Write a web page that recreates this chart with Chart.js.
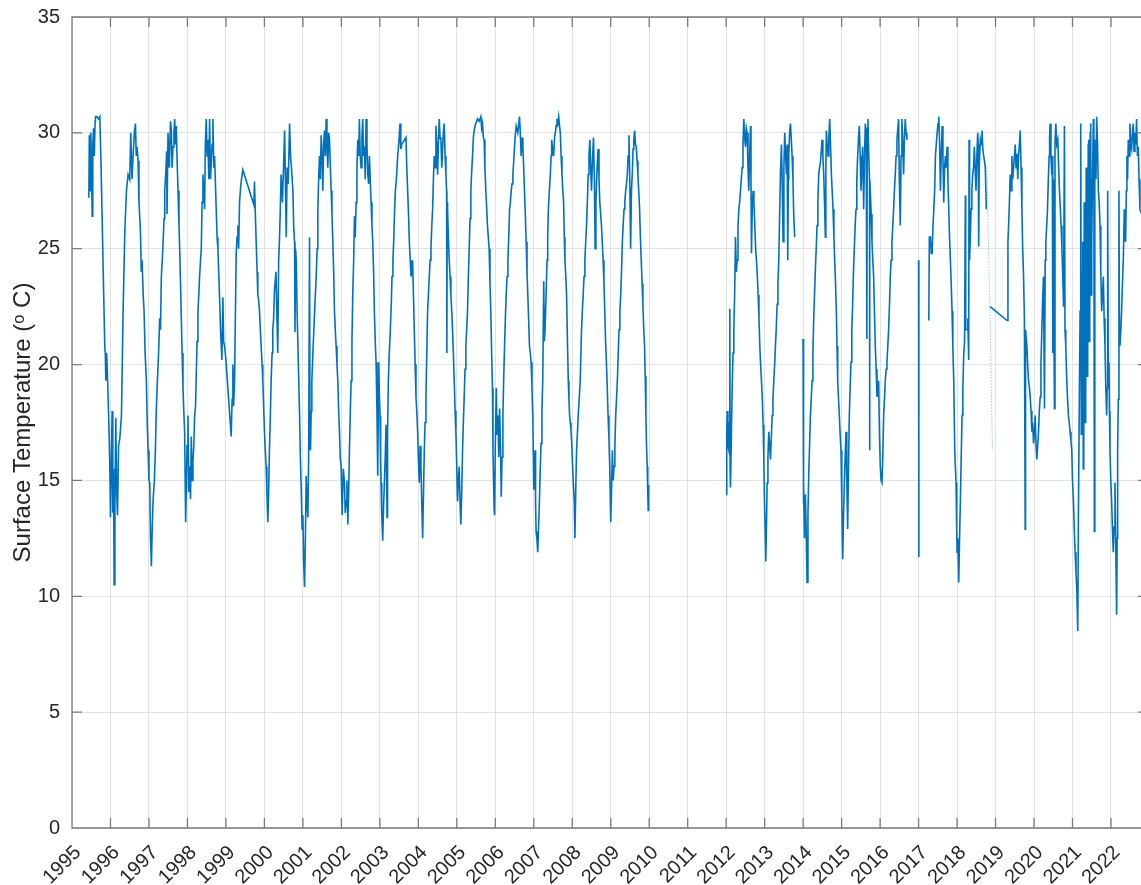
<!DOCTYPE html>
<html>
<head>
<meta charset="utf-8">
<script src="https://cdn.jsdelivr.net/npm/chart.js@4.4.1/dist/chart.umd.min.js"></script>
<style>
  html, body { margin: 0; padding: 0; background: #fff; overflow: hidden; }
</style>
</head>
<body>
<canvas id="tempChart" width="1141" height="885"></canvas>
<script>
// Lecturas aproximadas de la figura: [año decimal, temperatura °C]; null = sin datos
const serie1995_1999 = [
  [1995.438, 27.2], [1995.45, 29.9], [1995.47, 27.5], [1995.49, 30.0], [1995.51, 28.0], [1995.525, 26.4],
  [1995.54, 29.5], [1995.56, 30.2], [1995.58, 29.0], [1995.6, 30.5], [1995.611, 30.7], [1995.65, 30.7],
  [1995.69, 30.6], [1995.723, 30.7], [1995.749, 29.0], [1995.784, 26.3], [1995.81, 24.1], [1995.853, 20.7],
  [1995.865, 20.5], [1995.879, 19.3], [1995.9, 20.5], [1995.922, 19.5], [1995.957, 17.5], [1995.983, 15.6],
  [1996.0, 13.4], [1996.043, 18.0], [1996.06, 13.6], [1996.08, 15.5], [1996.095, 10.5], [1996.115, 14.0],
  [1996.138, 17.7], [1996.16, 14.5], [1996.182, 13.5], [1996.21, 16.5], [1996.242, 16.8], [1996.285, 17.8],
  [1996.328, 22.3], [1996.372, 25.7], [1996.415, 27.5], [1996.458, 28.2], [1996.5, 28.0], [1996.527, 30.0],
  [1996.56, 28.0], [1996.588, 29.0], [1996.62, 30.0], [1996.648, 30.4], [1996.67, 29.0], [1996.691, 29.4],
  [1996.717, 28.8], [1996.74, 27.0], [1996.778, 25.8], [1996.8, 24.0], [1996.821, 24.5], [1996.85, 23.0],
  [1996.873, 22.3], [1996.9, 20.5], [1996.933, 19.3], [1996.955, 17.5], [1996.977, 16.3], [1997.0, 15.0],
  [1997.02, 14.9], [1997.04, 12.5], [1997.063, 11.3], [1997.085, 13.0], [1997.106, 14.1], [1997.14, 15.0],
  [1997.167, 16.3], [1997.19, 18.0], [1997.219, 19.3], [1997.25, 20.5], [1997.279, 22.0], [1997.3, 21.5],
  [1997.322, 23.8], [1997.36, 25.0], [1997.392, 26.3], [1997.41, 27.5], [1997.435, 28.2], [1997.46, 29.2],
  [1997.47, 26.5], [1997.495, 30.0], [1997.53, 28.5], [1997.56, 30.5], [1997.582, 30.1], [1997.6, 28.5],
  [1997.625, 29.4], [1997.65, 30.0], [1997.668, 30.6], [1997.69, 29.5], [1997.711, 30.3], [1997.733, 28.7],
  [1997.755, 27.5], [1997.78, 26.0], [1997.798, 25.0], [1997.82, 23.5], [1997.841, 22.0], [1997.862, 20.5],
  [1997.884, 19.0], [1997.905, 18.0], [1997.927, 17.1], [1997.953, 13.2], [1997.971, 14.6], [1997.99, 16.5],
  [1998.014, 17.8], [1998.035, 14.5], [1998.057, 15.6], [1998.08, 14.2], [1998.1, 16.9], [1998.12, 15.0],
  [1998.143, 15.8], [1998.165, 16.5], [1998.187, 17.8], [1998.21, 18.2], [1998.23, 19.6], [1998.25, 21.0],
  [1998.273, 22.3], [1998.295, 23.0], [1998.316, 23.8], [1998.34, 24.5], [1998.36, 25.0], [1998.38, 27.0],
  [1998.403, 28.2], [1998.425, 27.5], [1998.446, 26.7], [1998.465, 29.5], [1998.489, 30.6], [1998.51, 29.0],
  [1998.532, 29.7], [1998.555, 28.0], [1998.576, 30.6], [1998.6, 28.0], [1998.619, 28.7], [1998.64, 29.5],
  [1998.662, 30.6], [1998.685, 28.5], [1998.705, 29.0], [1998.727, 27.8], [1998.748, 26.7], [1998.77, 25.5],
  [1998.792, 25.0], [1998.812, 24.0], [1998.835, 22.9], [1998.86, 21.5], [1998.895, 20.2], [1998.921, 22.9],
  [1998.94, 21.0], [1998.965, 20.8], [1999.0, 20.2]
];

const serie1999_2005 = [
  [1999.137, 16.9], [1999.16, 18.5], [1999.181, 20.0], [1999.2, 18.2], [1999.224, 19.3], [1999.245, 22.0],
  [1999.267, 24.8], [1999.29, 25.5], [1999.31, 26.0], [1999.33, 25.0], [1999.354, 27.0], [1999.375, 27.5],
  [1999.397, 27.9], [1999.44, 28.4], [1999.725, 26.9], [1999.742, 27.9], [1999.765, 26.5], [1999.786, 25.3],
  [1999.81, 24.0], [1999.829, 23.0], [1999.85, 22.8], [1999.872, 22.3], [1999.895, 21.5], [1999.915, 20.8],
  [1999.94, 20.0], [1999.959, 19.3], [1999.98, 18.2], [2000.002, 17.1], [2000.025, 16.2], [2000.045, 15.6],
  [2000.065, 14.5], [2000.088, 13.2], [2000.11, 14.5], [2000.131, 16.3], [2000.155, 17.8], [2000.175, 19.3],
  [2000.2, 20.5], [2000.218, 21.5], [2000.24, 22.0], [2000.261, 23.2], [2000.3, 24.0], [2000.347, 20.5],
  [2000.37, 24.5], [2000.39, 25.3], [2000.41, 26.5], [2000.434, 28.2], [2000.47, 27.0], [2000.5, 28.7],
  [2000.525, 30.1], [2000.545, 28.0], [2000.568, 25.5], [2000.59, 28.5], [2000.62, 27.8], [2000.654, 30.4],
  [2000.68, 29.0], [2000.71, 28.3], [2000.741, 27.5], [2000.76, 26.0], [2000.784, 25.3], [2000.795, 21.4],
  [2000.81, 25.0], [2000.827, 24.5], [2000.85, 22.3], [2000.87, 22.3], [2000.89, 19.5], [2000.914, 17.8],
  [2000.935, 16.0], [2000.957, 14.6], [2000.98, 12.9], [2001.0, 13.5], [2001.02, 11.5], [2001.043, 10.4],
  [2001.065, 12.5], [2001.086, 15.2], [2001.11, 14.0], [2001.13, 13.4], [2001.15, 16.0], [2001.173, 25.5],
  [2001.185, 16.5], [2001.199, 16.3], [2001.215, 18.0], [2001.233, 19.3], [2001.26, 20.5], [2001.285, 21.5],
  [2001.31, 22.5], [2001.346, 23.8], [2001.37, 25.0], [2001.389, 26.7], [2001.41, 28.0], [2001.432, 29.0],
  [2001.455, 28.0], [2001.475, 29.9], [2001.5, 29.0], [2001.519, 27.5], [2001.54, 29.5], [2001.562, 30.1],
  [2001.585, 29.0], [2001.605, 30.6], [2001.625, 29.5], [2001.648, 28.5], [2001.67, 30.0], [2001.691, 29.7],
  [2001.715, 28.5], [2001.735, 27.5], [2001.756, 26.5], [2001.778, 25.3], [2001.8, 24.0], [2001.821, 22.3],
  [2001.842, 21.5], [2001.864, 20.8], [2001.886, 20.0], [2001.908, 19.3], [2001.93, 18.0], [2001.951, 17.1],
  [2001.97, 16.0], [2001.994, 15.6], [2002.02, 13.5], [2002.05, 15.5], [2002.08, 14.9], [2002.1, 13.6],
  [2002.124, 14.1], [2002.145, 15.0], [2002.167, 13.1], [2002.19, 14.5], [2002.21, 16.3], [2002.23, 17.8],
  [2002.253, 19.3], [2002.275, 21.0], [2002.296, 23.0], [2002.32, 24.5], [2002.34, 26.4], [2002.36, 25.5],
  [2002.383, 27.0], [2002.405, 28.5], [2002.426, 29.7], [2002.45, 29.0], [2002.469, 30.6], [2002.49, 29.0],
  [2002.513, 28.5], [2002.535, 29.8], [2002.556, 30.6], [2002.578, 29.0], [2002.599, 29.4], [2002.62, 28.0],
  [2002.642, 30.6], [2002.665, 29.5], [2002.686, 28.2], [2002.71, 27.8], [2002.729, 29.0], [2002.75, 28.0],
  [2002.772, 27.0], [2002.795, 26.0], [2002.815, 25.3], [2002.838, 24.0], [2002.858, 22.3], [2002.88, 21.0],
  [2002.902, 20.1], [2002.925, 18.0], [2002.945, 15.2], [2002.971, 20.1], [2002.99, 18.5], [2003.005, 17.8],
  [2003.02, 16.0], [2003.031, 14.9], [2003.05, 13.5], [2003.074, 12.4], [2003.095, 13.8], [2003.118, 14.9],
  [2003.14, 16.0], [2003.161, 17.4], [2003.187, 13.4], [2003.2, 17.0], [2003.221, 19.3], [2003.245, 20.5],
  [2003.273, 21.5], [2003.295, 22.5], [2003.316, 23.8], [2003.34, 24.5], [2003.36, 25.3], [2003.38, 26.5],
  [2003.403, 27.5], [2003.43, 28.0], [2003.463, 29.0], [2003.49, 29.5], [2003.524, 30.4], [2003.545, 29.3],
  [2003.567, 29.5], [2003.679, 29.8], [2003.7, 28.5], [2003.723, 27.5], [2003.745, 26.5], [2003.766, 25.3],
  [2003.79, 24.5], [2003.809, 23.8], [2003.83, 24.0], [2003.852, 24.5], [2003.873, 23.0], [2003.895, 21.5],
  [2003.917, 20.0], [2003.939, 18.6], [2003.96, 18.0], [2003.982, 17.1], [2004.0, 16.0], [2004.025, 14.9],
  [2004.045, 16.5], [2004.068, 15.6], [2004.09, 14.0], [2004.112, 12.5], [2004.135, 14.5], [2004.155, 16.3],
  [2004.175, 17.5], [2004.198, 18.6], [2004.22, 20.5], [2004.241, 22.3], [2004.262, 23.0], [2004.284, 23.8],
  [2004.306, 24.5], [2004.328, 25.0], [2004.35, 26.0], [2004.371, 26.7], [2004.392, 28.0], [2004.414, 29.0],
  [2004.435, 28.5], [2004.457, 30.3], [2004.48, 29.5], [2004.501, 28.2], [2004.52, 29.5], [2004.544, 30.6],
  [2004.565, 29.8], [2004.587, 29.7], [2004.61, 28.5], [2004.63, 29.3], [2004.65, 30.0], [2004.673, 30.4],
  [2004.695, 29.0], [2004.717, 28.2], [2004.735, 27.5], [2004.742, 20.5], [2004.75, 27.0], [2004.76, 26.7],
  [2004.78, 25.5], [2004.803, 24.5], [2004.825, 23.8], [2004.846, 23.0], [2004.868, 22.3], [2004.889, 21.5],
  [2004.91, 20.5], [2004.933, 19.3], [2004.955, 18.0], [2004.976, 17.1], [2005.0, 15.5], [2005.019, 14.1],
  [2005.04, 15.0], [2005.062, 15.6], [2005.085, 14.0], [2005.105, 13.1], [2005.128, 14.5], [2005.149, 16.3],
  [2005.17, 17.5], [2005.192, 18.6], [2005.213, 19.8], [2005.235, 20.8], [2005.256, 21.5], [2005.278, 22.3],
  [2005.3, 23.8], [2005.322, 25.0], [2005.343, 26.3], [2005.365, 27.5], [2005.386, 28.3], [2005.408, 29.0],
  [2005.43, 29.8], [2005.451, 30.1], [2005.49, 30.4], [2005.538, 30.6], [2005.58, 30.5], [2005.624, 30.7],
  [2005.645, 30.2], [2005.667, 30.4], [2005.69, 29.8], [2005.71, 29.7], [2005.73, 28.5], [2005.754, 27.5],
  [2005.775, 26.8], [2005.797, 26.0], [2005.818, 25.5], [2005.84, 25.0], [2005.862, 23.5], [2005.883, 22.3],
  [2005.905, 20.5], [2005.927, 19.0], [2005.94, 16.3], [2005.97, 13.7]
];

const serie2006_2009 = [
  [2005.983, 13.5], [2006.0, 16.5], [2006.026, 19.0], [2006.045, 17.0], [2006.069, 17.8], [2006.09, 16.0],
  [2006.112, 18.1], [2006.135, 16.5], [2006.155, 14.3], [2006.175, 16.0], [2006.198, 17.8], [2006.22, 19.5],
  [2006.241, 20.8], [2006.262, 22.0], [2006.284, 23.0], [2006.306, 23.8], [2006.328, 24.5], [2006.35, 25.5],
  [2006.371, 26.7], [2006.392, 27.0], [2006.414, 27.5], [2006.435, 27.8], [2006.457, 28.2], [2006.48, 28.8],
  [2006.5, 29.4], [2006.52, 29.9], [2006.543, 30.3], [2006.585, 30.0], [2006.629, 30.7], [2006.65, 30.0],
  [2006.672, 29.0], [2006.695, 29.8], [2006.716, 29.4], [2006.738, 28.5], [2006.759, 27.5], [2006.78, 26.5],
  [2006.802, 25.3], [2006.824, 24.0], [2006.845, 23.0], [2006.866, 22.0], [2006.888, 20.8], [2006.91, 20.5],
  [2006.931, 20.1], [2006.953, 19.0], [2006.974, 17.8], [2006.99, 16.0], [2007.0, 14.6], [2007.02, 15.5],
  [2007.034, 16.3], [2007.047, 14.0], [2007.06, 12.8], [2007.08, 12.5], [2007.103, 11.9], [2007.125, 13.0],
  [2007.147, 14.1], [2007.168, 15.5], [2007.19, 16.6], [2007.212, 18.0], [2007.233, 19.3], [2007.259, 23.6],
  [2007.275, 21.0], [2007.293, 21.5], [2007.32, 23.0], [2007.345, 24.5], [2007.362, 25.5], [2007.379, 26.7],
  [2007.405, 27.5], [2007.431, 28.2], [2007.45, 29.0], [2007.466, 29.7], [2007.49, 29.3], [2007.517, 29.0],
  [2007.54, 29.8], [2007.56, 30.0], [2007.58, 30.3], [2007.603, 30.6], [2007.625, 30.4], [2007.647, 30.7],
  [2007.67, 30.3], [2007.69, 30.0], [2007.71, 29.0], [2007.733, 28.2], [2007.755, 27.5], [2007.776, 27.0],
  [2007.793, 25.5], [2007.81, 24.5], [2007.832, 23.8], [2007.853, 23.0], [2007.875, 21.0], [2007.897, 19.3],
  [2007.914, 18.5], [2007.931, 17.8], [2007.948, 17.5], [2007.966, 17.2], [2007.99, 16.5], [2008.009, 15.6],
  [2008.03, 14.8], [2008.052, 14.1], [2008.069, 12.5], [2008.09, 14.5], [2008.112, 16.3], [2008.133, 17.0],
  [2008.155, 17.8], [2008.18, 18.5], [2008.207, 19.3], [2008.241, 21.5], [2008.262, 22.3], [2008.284, 23.0],
  [2008.306, 23.8], [2008.328, 24.5], [2008.35, 25.3], [2008.371, 26.0], [2008.392, 27.0], [2008.414, 28.2],
  [2008.435, 29.0], [2008.457, 29.7], [2008.48, 28.5], [2008.5, 27.5], [2008.525, 28.8], [2008.552, 29.8],
  [2008.575, 28.0], [2008.595, 25.0], [2008.615, 27.0], [2008.638, 28.2], [2008.655, 28.8], [2008.672, 29.3],
  [2008.695, 28.0], [2008.716, 27.0], [2008.738, 26.5], [2008.759, 26.0], [2008.78, 25.3], [2008.802, 24.5],
  [2008.824, 23.5], [2008.845, 22.3], [2008.866, 21.0], [2008.888, 20.1], [2008.91, 19.0], [2008.931, 17.8],
  [2008.953, 16.8], [2008.974, 15.6], [2009.0, 13.2], [2009.02, 14.5], [2009.043, 16.3], [2009.065, 15.0],
  [2009.086, 15.6], [2009.108, 16.5], [2009.129, 17.8], [2009.15, 18.5], [2009.172, 19.3], [2009.195, 20.5],
  [2009.216, 21.5], [2009.238, 22.3], [2009.259, 23.0], [2009.28, 24.0], [2009.302, 25.3], [2009.323, 26.0],
  [2009.345, 26.7], [2009.366, 27.0], [2009.388, 27.5], [2009.41, 27.8], [2009.431, 28.2], [2009.452, 29.0],
  [2009.474, 29.9], [2009.495, 28.0], [2009.517, 25.0], [2009.538, 27.5], [2009.56, 28.2], [2009.58, 29.3],
  [2009.6, 29.7], [2009.621, 30.1], [2009.643, 29.5], [2009.664, 29.4], [2009.685, 28.8], [2009.707, 28.2],
  [2009.728, 27.5], [2009.75, 26.7], [2009.771, 25.5], [2009.793, 24.5], [2009.815, 23.5], [2009.836, 22.6],
  [2009.858, 21.5], [2009.879, 20.8], [2009.896, 19.5], [2009.914, 17.8], [2009.93, 16.5], [2009.948, 15.6],
  [2009.962, 14.5], [2009.974, 13.7], [2009.985, 14.8],
  [2011.0, null]
];

const serie2012_2016 = [
  [2012.0, 14.4], [2012.015, 17.0], [2012.026, 18.0], [2012.045, 16.5], [2012.069, 16.3], [2012.085, 17.5],
  [2012.095, 22.4], [2012.103, 15.5], [2012.112, 14.7], [2012.135, 17.0], [2012.156, 19.0], [2012.178, 20.5],
  [2012.199, 21.5], [2012.22, 23.0], [2012.242, 25.5], [2012.264, 24.0], [2012.285, 24.5], [2012.307, 26.0],
  [2012.329, 26.7], [2012.35, 27.0], [2012.372, 27.5], [2012.393, 28.0], [2012.415, 28.5], [2012.437, 29.5],
  [2012.458, 30.6], [2012.48, 29.8], [2012.502, 29.4], [2012.523, 30.2], [2012.545, 30.0], [2012.567, 28.5],
  [2012.588, 27.5], [2012.61, 29.0], [2012.631, 30.3], [2012.645, 28.0], [2012.657, 24.8], [2012.68, 27.0],
  [2012.701, 27.5], [2012.72, 27.0], [2012.744, 26.0], [2012.766, 25.0], [2012.787, 24.5], [2012.81, 23.8],
  [2012.83, 23.0], [2012.852, 22.0], [2012.874, 20.8], [2012.895, 20.0], [2012.917, 19.3], [2012.94, 18.5],
  [2012.96, 17.4], [2012.978, 16.0], [2012.995, 14.1], [2013.012, 13.0], [2013.029, 11.5], [2013.047, 13.0],
  [2013.064, 14.9], [2013.085, 16.0], [2013.107, 17.1], [2013.13, 16.5], [2013.151, 15.9], [2013.172, 16.8],
  [2013.194, 17.8], [2013.215, 18.5], [2013.237, 19.3], [2013.26, 20.0], [2013.28, 20.8], [2013.3, 21.5],
  [2013.324, 22.6], [2013.345, 23.5], [2013.367, 24.5], [2013.39, 26.5], [2013.41, 28.2], [2013.436, 29.5],
  [2013.455, 28.0], [2013.479, 25.3], [2013.5, 28.5], [2013.522, 30.0], [2013.545, 29.0], [2013.566, 28.2],
  [2013.585, 29.5], [2013.6, 24.5], [2013.615, 28.0], [2013.626, 29.0], [2013.648, 30.0], [2013.67, 30.4],
  [2013.69, 29.8], [2013.713, 29.0], [2013.735, 28.0], [2013.756, 26.4], [2013.78, 25.5],
  [2013.9, null],
  [2013.998, 21.1], [2014.005, 14.0], [2014.016, 14.9], [2014.035, 12.5], [2014.059, 14.4], [2014.08, 12.8],
  [2014.102, 10.6], [2014.125, 13.5], [2014.145, 15.2], [2014.167, 16.5], [2014.189, 17.8], [2014.21, 18.5],
  [2014.232, 19.3], [2014.254, 20.5], [2014.275, 22.0], [2014.296, 23.0], [2014.318, 24.1], [2014.34, 25.0],
  [2014.362, 26.0], [2014.383, 27.0], [2014.405, 28.2], [2014.426, 28.5], [2014.448, 28.7], [2014.47, 29.2],
  [2014.491, 29.7], [2014.513, 29.0], [2014.535, 28.2], [2014.556, 27.0], [2014.578, 25.5], [2014.59, 28.5],
  [2014.604, 30.1], [2014.625, 29.5], [2014.647, 29.0], [2014.668, 29.8], [2014.69, 30.6], [2014.712, 29.5],
  [2014.734, 28.2], [2014.755, 27.5], [2014.777, 26.7], [2014.8, 25.5], [2014.82, 24.5], [2014.842, 23.5],
  [2014.863, 22.3], [2014.88, 20.8], [2014.898, 19.3], [2014.92, 18.5], [2014.941, 17.8], [2014.962, 17.0],
  [2014.984, 16.3], [2015.005, 14.0], [2015.028, 11.6], [2015.05, 13.5], [2015.071, 14.9], [2015.092, 16.0],
  [2015.114, 17.1], [2015.135, 15.0], [2015.157, 12.9], [2015.178, 15.5], [2015.2, 17.8], [2015.222, 19.0],
  [2015.244, 20.1], [2015.265, 21.5], [2015.287, 22.6], [2015.308, 24.0], [2015.33, 25.0], [2015.352, 26.0],
  [2015.374, 26.7], [2015.395, 28.0], [2015.417, 29.0], [2015.44, 29.8], [2015.46, 30.3], [2015.482, 29.0],
  [2015.503, 27.5], [2015.525, 28.5], [2015.547, 29.4], [2015.56, 28.0], [2015.573, 26.7], [2015.595, 29.0],
  [2015.616, 30.4], [2015.64, 29.5], [2015.655, 30.0], [2015.659, 21.1], [2015.665, 30.2], [2015.685, 30.6],
  [2015.705, 29.0], [2015.725, 28.0], [2015.728, 16.3], [2015.733, 28.0], [2015.746, 27.5], [2015.768, 26.5],
  [2015.789, 25.3], [2015.81, 24.5], [2015.832, 23.8], [2015.853, 22.3], [2015.875, 20.8], [2015.897, 19.8],
  [2015.919, 18.6], [2015.94, 18.9], [2015.962, 19.3], [2015.984, 17.0], [2016.005, 15.6], [2016.025, 15.0],
  [2016.048, 14.9], [2016.07, 16.0], [2016.092, 17.8], [2016.113, 18.5], [2016.135, 19.3], [2016.157, 19.8],
  [2016.178, 20.1], [2016.2, 20.8], [2016.221, 21.5], [2016.243, 22.5], [2016.265, 23.8], [2016.286, 24.5],
  [2016.308, 25.3], [2016.33, 26.0], [2016.351, 26.7], [2016.372, 27.5], [2016.394, 28.2], [2016.415, 29.0],
  [2016.438, 29.7], [2016.46, 30.2], [2016.481, 30.6], [2016.5, 28.0], [2016.524, 26.0], [2016.545, 29.0],
  [2016.567, 30.6], [2016.59, 29.5], [2016.611, 28.2], [2016.632, 29.8], [2016.654, 30.6], [2016.675, 30.0],
  [2016.697, 29.7],
  [2016.85, null]
];

const serie2017_2022 = [
  [2017.0, 24.5], [2017.004, 11.7], [2017.01, 23.4],
  [2017.15, null],
  [2017.266, 21.9], [2017.28, 25.5], [2017.309, 25.5], [2017.33, 24.8], [2017.352, 24.8], [2017.375, 26.0],
  [2017.395, 26.0], [2017.418, 27.5], [2017.438, 29.0], [2017.46, 29.5], [2017.482, 30.0], [2017.505, 30.4],
  [2017.525, 30.7], [2017.547, 29.5], [2017.568, 27.5], [2017.59, 29.0], [2017.611, 30.3], [2017.633, 29.0],
  [2017.654, 27.0], [2017.676, 28.5], [2017.698, 29.0], [2017.72, 28.5], [2017.741, 29.4], [2017.762, 28.0],
  [2017.784, 26.7], [2017.805, 25.5], [2017.827, 24.5], [2017.848, 23.5], [2017.87, 22.3], [2017.89, 20.8],
  [2017.914, 19.3], [2017.94, 16.3], [2017.958, 15.5], [2017.974, 14.9], [2017.99, 13.0], [2018.0, 11.9],
  [2018.02, 12.5], [2018.043, 10.6], [2018.065, 12.5], [2018.086, 14.1], [2018.108, 16.0], [2018.13, 17.8],
  [2018.15, 19.0], [2018.173, 20.4], [2018.195, 21.0], [2018.216, 27.3], [2018.225, 21.5], [2018.259, 21.5],
  [2018.28, 22.0], [2018.302, 20.2], [2018.312, 29.7], [2018.325, 24.5], [2018.345, 25.5], [2018.363, 26.7],
  [2018.385, 27.5], [2018.406, 28.2], [2018.428, 28.5], [2018.449, 29.4], [2018.47, 28.5], [2018.492, 27.5],
  [2018.515, 29.0], [2018.536, 30.0], [2018.55, 29.5], [2018.562, 25.1], [2018.575, 28.5], [2018.605, 29.7],
  [2018.625, 29.5], [2018.648, 30.1], [2018.67, 29.3], [2018.691, 29.0], [2018.712, 28.8], [2018.734, 28.5],
  [2018.76, 26.7],
  [2018.8, null],
  [2018.86, 22.5], [2019.3, 21.9], [2019.322, 25.3], [2019.339, 26.0], [2019.36, 27.0], [2019.382, 28.2],
  [2019.404, 27.5], [2019.425, 29.0], [2019.447, 28.0], [2019.469, 28.5], [2019.49, 29.0], [2019.512, 29.5],
  [2019.533, 28.5], [2019.555, 29.1], [2019.577, 28.0], [2019.598, 29.0], [2019.62, 29.5], [2019.641, 30.1],
  [2019.663, 28.5], [2019.685, 26.7], [2019.706, 25.0], [2019.728, 23.8], [2019.75, 22.0], [2019.771, 12.9],
  [2019.78, 21.5], [2019.814, 20.8], [2019.835, 20.0], [2019.857, 19.3], [2019.88, 19.0], [2019.901, 18.6],
  [2019.922, 18.0], [2019.944, 17.1], [2019.965, 17.5], [2019.987, 16.6], [2020.01, 17.0], [2020.03, 17.8],
  [2020.052, 16.5], [2020.073, 15.9], [2020.095, 16.5], [2020.117, 17.1], [2020.138, 18.0], [2020.16, 18.6],
  [2020.18, 20.0], [2020.203, 21.5], [2020.225, 22.8], [2020.246, 23.8], [2020.272, 18.1], [2020.29, 24.5],
  [2020.307, 25.3], [2020.33, 26.0], [2020.35, 26.7], [2020.372, 28.0], [2020.393, 29.0], [2020.405, 29.8],
  [2020.419, 30.4], [2020.44, 29.0], [2020.462, 28.2], [2020.475, 29.0], [2020.488, 20.5], [2020.5, 28.0],
  [2020.515, 22.0], [2020.531, 18.1], [2020.545, 29.5], [2020.566, 30.4], [2020.59, 29.5], [2020.618, 29.7],
  [2020.64, 28.5], [2020.661, 27.5], [2020.682, 26.8], [2020.704, 26.0], [2020.725, 25.0], [2020.747, 23.8],
  [2020.768, 22.5], [2020.79, 30.3], [2020.805, 21.5], [2020.825, 20.8], [2020.851, 19.3], [2020.872, 18.5],
  [2020.894, 17.8], [2020.915, 17.5], [2020.937, 17.1], [2020.96, 16.7], [2020.981, 16.3], [2021.0, 15.0],
  [2021.024, 14.1], [2021.045, 13.0], [2021.067, 11.9], [2021.09, 11.0], [2021.11, 10.4], [2021.136, 8.5],
  [2021.153, 13.4], [2021.175, 18.0], [2021.197, 22.3], [2021.214, 30.4], [2021.228, 17.0], [2021.24, 17.8],
  [2021.253, 24.0], [2021.266, 25.3], [2021.28, 15.5], [2021.292, 16.3], [2021.305, 27.0], [2021.318, 26.7],
  [2021.33, 17.5], [2021.343, 18.6], [2021.356, 28.5], [2021.369, 28.2], [2021.382, 19.5], [2021.395, 20.8],
  [2021.408, 29.5], [2021.421, 29.7], [2021.434, 21.0], [2021.447, 22.3], [2021.46, 30.0], [2021.473, 30.4],
  [2021.486, 23.0], [2021.499, 25.3], [2021.52, 28.0], [2021.542, 30.6], [2021.555, 29.0], [2021.568, 12.8],
  [2021.58, 28.5], [2021.594, 29.7], [2021.61, 28.0], [2021.628, 30.7], [2021.65, 29.5], [2021.672, 27.5],
  [2021.693, 27.0], [2021.715, 26.0], [2021.735, 24.0], [2021.758, 22.3], [2021.78, 23.0], [2021.801, 23.8],
  [2021.822, 22.0], [2021.844, 20.8], [2021.865, 19.0], [2021.888, 17.8], [2021.9, 19.0], [2021.914, 27.5],
  [2021.93, 19.5], [2021.948, 20.1], [2021.96, 18.0], [2021.974, 16.3], [2021.995, 15.0], [2022.017, 14.1],
  [2022.04, 12.8], [2022.06, 11.9], [2022.082, 13.0], [2022.104, 14.9], [2022.125, 12.0], [2022.147, 9.2],
  [2022.16, 12.5], [2022.173, 16.3], [2022.19, 18.5], [2022.207, 27.5], [2022.22, 21.0], [2022.233, 20.8],
  [2022.255, 21.5], [2022.276, 22.3], [2022.298, 23.5], [2022.32, 24.5], [2022.346, 26.7], [2022.36, 25.5],
  [2022.38, 25.3], [2022.398, 27.5], [2022.415, 29.0], [2022.43, 28.0], [2022.449, 29.7], [2022.47, 29.0],
  [2022.492, 30.4], [2022.515, 29.5], [2022.536, 29.3], [2022.558, 30.0], [2022.579, 30.4], [2022.6, 29.2],
  [2022.622, 30.0], [2022.645, 29.5], [2022.665, 30.6], [2022.688, 29.0], [2022.708, 29.4], [2022.73, 28.0],
  [2022.752, 26.7], [2022.8, 26.5]
];

// tramo con datos sueltos (se ve punteado en la figura)
const serieSuelta2018 = [
  [2018.78, 28.5], [2018.8, 26.5], [2018.82, 25.0], [2018.84, 23.5], [2018.86, 22.0], [2018.88, 20.0],
  [2018.9, 18.0], [2018.92, 16.3]
];

const ticksAnios = [1995, 1996, 1997, 1998, 1999, 2000, 2001, 2002, 2003, 2004, 2005, 2006, 2007, 2008,
  2009, 2010, 2011, 2012, 2013, 2014, 2015, 2016, 2017, 2018, 2019, 2020, 2021, 2022];
const ticksTemp = [0, 5, 10, 15, 20, 25, 30, 35];
const tituloY = 'Surface Temperature (\u1D52 C)';

const AZUL = '#0072BD';
const FUENTE = "'Liberation Sans', Arial, Helvetica, sans-serif";

const aPuntos = arr => arr.map(p => ({ x: p[0], y: p[1] }));
const serieCompleta = [].concat(
  serie1995_1999, serie1999_2005, serie2006_2009, serie2012_2016, serie2017_2022
);

// Caja de ejes estilo MATLAB con marcas hacia dentro.
// La figura original está recortada por la derecha: del eje derecho solo asoman las puntas de las marcas.
const cajaEjes = {
  id: 'cajaEjes',
  afterDraw(chart) {
    const { ctx, chartArea: a, scales: { x, y } } = chart;
    ctx.save();
    ctx.strokeStyle = '#7a7a7a';
    ctx.lineWidth = 1.3;
    ctx.beginPath();
    ctx.moveTo(a.right, a.top); ctx.lineTo(a.left, a.top);
    ctx.lineTo(a.left, a.bottom); ctx.lineTo(a.right, a.bottom);
    ticksAnios.forEach(v => {
      const px = x.getPixelForValue(v);
      ctx.moveTo(px, a.bottom); ctx.lineTo(px, a.bottom - 10);
      ctx.moveTo(px, a.top); ctx.lineTo(px, a.top + 10);
    });
    ticksTemp.forEach(v => {
      const py = y.getPixelForValue(v);
      ctx.moveTo(a.left, py); ctx.lineTo(a.left + 10, py);
      ctx.moveTo(a.right, py); ctx.lineTo(a.right - 3, py);
    });
    ctx.stroke();
    ctx.restore();
  }
};

new Chart(document.getElementById('tempChart').getContext('2d'), {
  type: 'line',
  data: {
    datasets: [
      {
        data: aPuntos(serieCompleta),
        borderColor: AZUL,
        borderWidth: 1.6,
        pointRadius: 0,
        tension: 0,
        spanGaps: false
      },
      {
        data: aPuntos(serieSuelta2018),
        borderColor: '#6aa8d8',
        borderWidth: 1,
        borderDash: [1, 2],
        pointRadius: 0,
        tension: 0
      }
    ]
  },
  options: {
    responsive: false,
    animation: false,
    devicePixelRatio: 1,
    layout: { padding: { top: 17, right: 0, bottom: 0, left: 0 } },
    plugins: { legend: { display: false }, tooltip: { enabled: false } },
    scales: {
      x: {
        type: 'linear',
        min: 1995,
        max: 2022.78,
        afterBuildTicks: s => { s.ticks = ticksAnios.map(v => ({ value: v })); },
        afterFit: s => { s.height = 57; s.paddingLeft = 0; s.paddingRight = 0; },
        grid: { color: '#e2e2e2', lineWidth: 1, drawTicks: false },
        border: { display: false },
        ticks: {
          autoSkip: false,
          maxRotation: 45,
          minRotation: 45,
          padding: 13,
          labelOffset: 6,
          color: '#262626',
          font: { family: FUENTE, size: 20 },
          callback: v => String(v)
        }
      },
      y: {
        min: 0,
        max: 35,
        afterBuildTicks: s => { s.ticks = ticksTemp.map(v => ({ value: v })); },
        afterFit: s => { s.width = 72; s.paddingTop = 0; s.paddingBottom = 0; },
        grid: { color: '#e2e2e2', lineWidth: 1, drawTicks: false },
        border: { display: false },
        ticks: {
          padding: 12,
          color: '#262626',
          font: { family: FUENTE, size: 20 },
          callback: v => String(v)
        },
        title: {
          display: true,
          text: tituloY,
          color: '#262626',
          font: { family: FUENTE, size: 24 },
          padding: { top: 9, bottom: 0 }
        }
      }
    }
  },
  plugins: [cajaEjes]
});
</script>
</body>
</html>
